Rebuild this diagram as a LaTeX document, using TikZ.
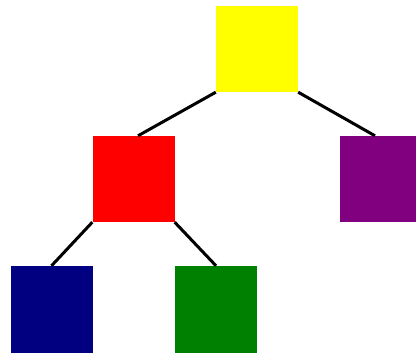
\documentclass[tikz,border=0pt]{standalone}
\usetikzlibrary{calc}
\definecolor{cyellow}{HTML}{FFFF00}
\definecolor{cred}{HTML}{FF0000}
\definecolor{cpurple}{HTML}{800080}
\definecolor{cnavy}{HTML}{000080}
\definecolor{cgreen}{HTML}{008000}
\begin{document}
\begin{tikzpicture}[x=1pt,y=-1pt,
  sq/.style={draw=none,inner sep=0pt,minimum width=82pt,minimum height=86pt},
  edge/.style={draw=black,line width=3pt}]
\useasboundingbox (0,0) rectangle (416,353);
\clip (0,0) rectangle (416,353);
\node[sq,fill=cyellow] (yellow) at (257,49) {};
\node[sq,fill=cred] (red) at (133.5,179) {};
\node[sq,fill=cpurple] (purple) at (381,179) {};
\node[sq,fill=cnavy,minimum height=88pt] (navy) at (51.5,310) {};
\node[sq,fill=cgreen,minimum height=88pt] (green) at (216,310) {};
\draw[edge] (yellow.south west) -- ($(red.north)+(4.5,0)$);
\draw[edge] (yellow.south east) -- ($(purple.north)+(-6,0)$);
\draw[edge] (red.south west) -- (navy.north);
\draw[edge] (red.south east) -- (green.north);
\end{tikzpicture}
\end{document}
